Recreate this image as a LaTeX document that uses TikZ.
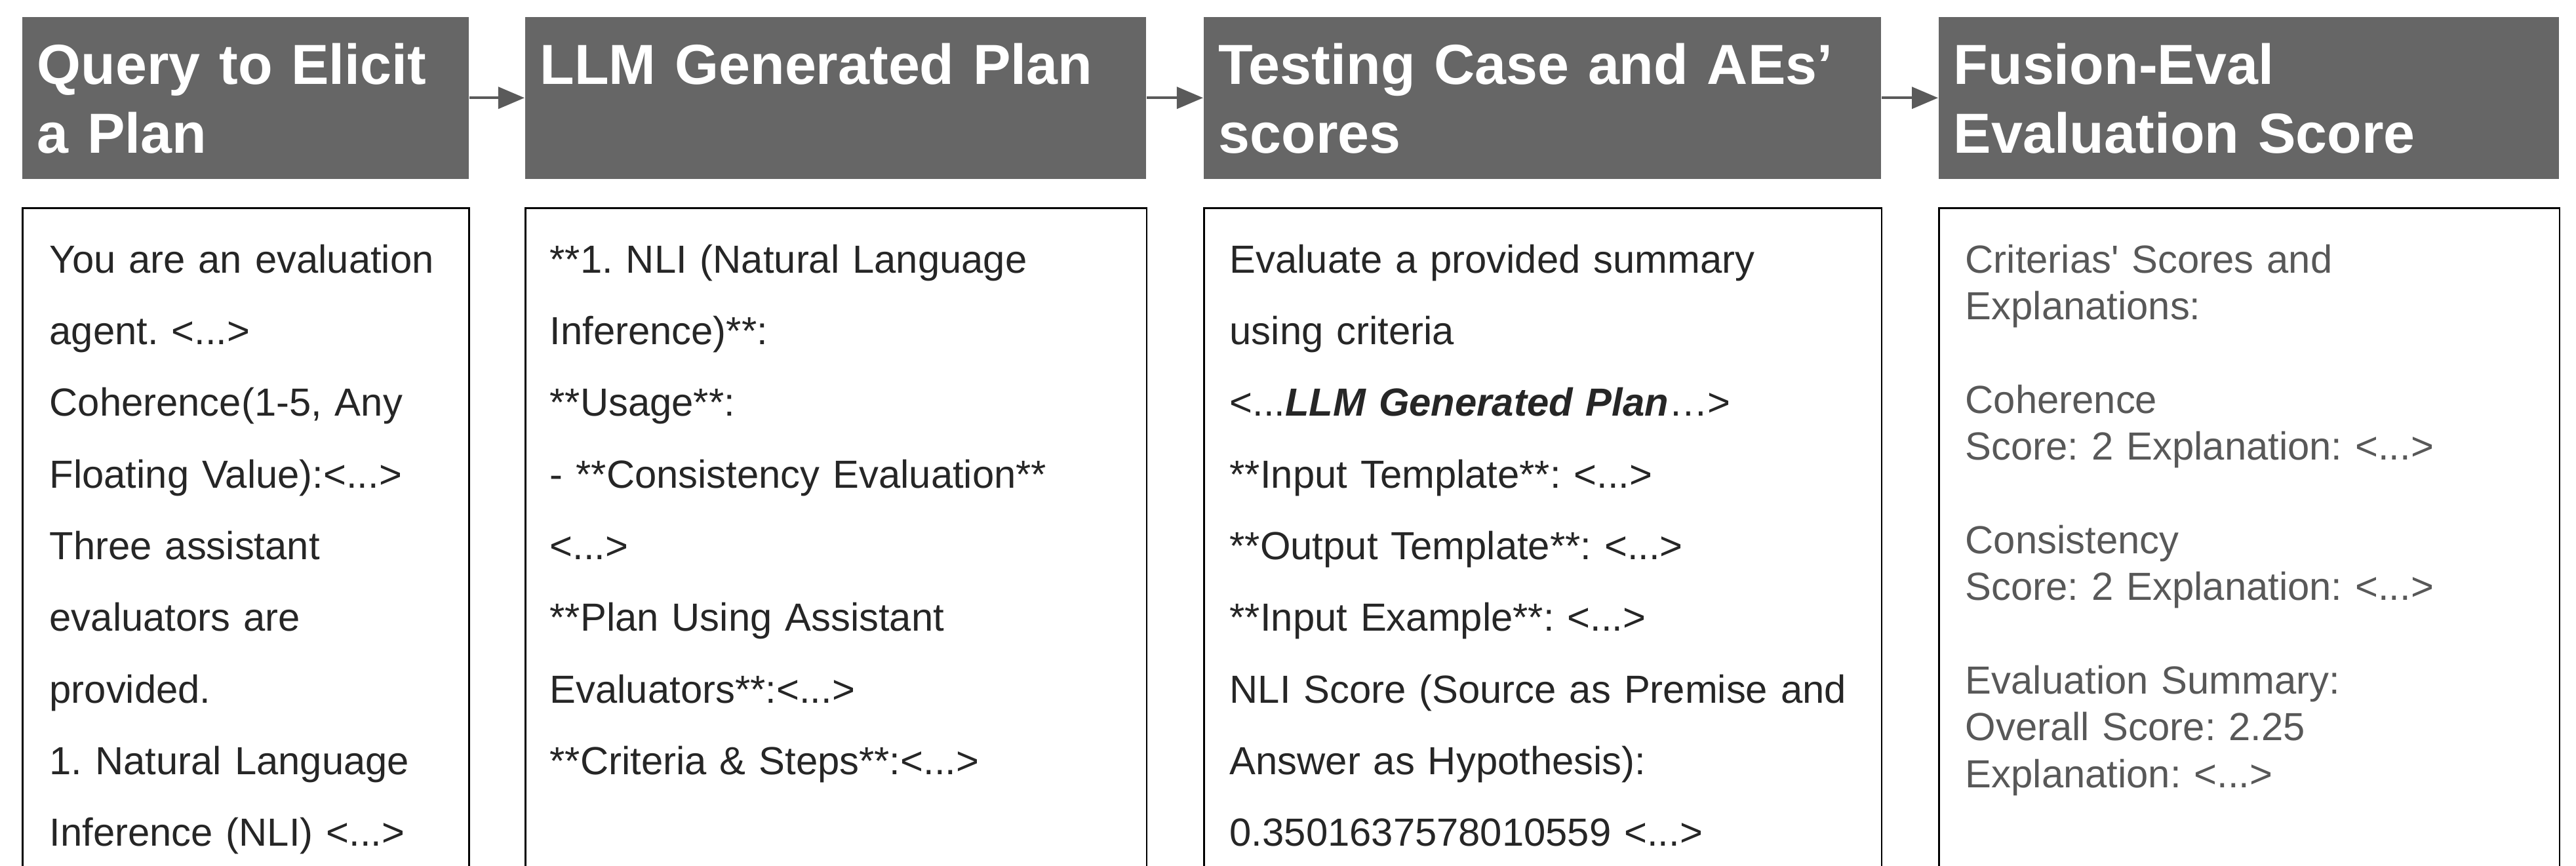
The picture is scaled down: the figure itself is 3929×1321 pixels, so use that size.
\documentclass[tikz,border=0pt]{standalone}
\usepackage{fontspec}
\setmainfont{Liberation Sans}
\usetikzlibrary{arrows.meta}
\definecolor{headgray}{HTML}{666666}
\definecolor{arrowgray}{HTML}{5A5A5A}
\definecolor{txtdark}{HTML}{262626}
\definecolor{txtgray}{HTML}{585858}
\frenchspacing

\begin{document}
\begin{tikzpicture}[x=0.01cm, y=-0.01cm,
  head/.style={fill=headgray, anchor=north west, minimum height=2.47cm, inner sep=0},
  headtxt/.style={anchor=base west, text=white, text width=10cm, inner sep=0,
    font=\fontsize{24.5}{29.9}\selectfont\bfseries},
  panel/.style={draw=black, line width=0.8pt, anchor=north west, minimum height=10.4cm, inner sep=0},
  bodytxt/.style={anchor=base west, text=txtdark, text width=11cm, inner sep=0,
    font=\fontsize{17}{31.1}\selectfont},
  flow/.style={arrowgray, line width=1.1pt, -{Triangle[length=0.4cm, width=0.33cm]}}]
\useasboundingbox (0,0) rectangle (3929,1321);
\clip (0,0) rectangle (3929,1321);

% Headers
\node[head, minimum width=6.81cm] (h1) at (33,25) {};
\node[head, minimum width=9.47cm] (h2) at (800,25) {};
\node[head, minimum width=10.33cm] (h3) at (1835,25) {};
\node[head, minimum width=9.46cm] (h4) at (2956,25) {};
\node[headtxt] (ht1) at (56,128) {Query to Elicit\\a Plan};
\node[headtxt] (ht2) at (823,128) {LLM Generated Plan};
\node[headtxt] (ht3) at (1858,128) {Testing Case and AEs’\\scores};
\node[headtxt] (ht4) at (2979,128) {Fusion-Eval\\Evaluation Score};

% Flechas
\draw[flow] (h1) -- (h2);
\draw[flow] (h2) -- (h3);
\draw[flow] (h3) -- (h4);

% Cajas
\node[panel, minimum width=6.81cm] (b1) at (33,316) {};
\node[panel, minimum width=9.47cm] (b2) at (800,316) {};
\node[panel, minimum width=10.33cm] (b3) at (1835,316) {};
\node[panel, minimum width=9.46cm] (b4) at (2956,316) {};

% Textos
\node[bodytxt] (q1) at (75,416) {You are an evaluation\\
agent. <...>\\
Coherence(1-5, Any\\
Floating Value):<...>\\
Three assistant\\
evaluators are\\
provided.\\
1. Natural Language\\
Inference (NLI) <...>};
\node[bodytxt] (p1) at (838,416) {**1. NLI (Natural Language\\
Inference)**:\\
{}**Usage**:\\
- **Consistency Evaluation**\\
<...>\\
{}**Plan Using Assistant\\
Evaluators**:<...>\\
{}**Criteria \& Steps**:<...>};
\node[bodytxt] (s1) at (1875,416) {Evaluate a provided summary\\
using criteria\\
<...\textbf{\textit{LLM Generated Plan}}…>\\
{}**Input Template**: <...>\\
{}**Output Template**: <...>\\
{}**Input Example**: <...>\\
NLI Score (Source as Premise and\\
Answer as Hypothesis):\\
0.3501637578010559 <...>};
\node[bodytxt, text=txtgray, font=\fontsize{17}{20.3}\selectfont] (e1) at (2997,416) {Criterias\textquotesingle{} Scores and\\
Explanations:\\[\baselineskip]
Coherence\\
Score: 2 Explanation: <...>\\[\baselineskip]
Consistency\\
Score: 2 Explanation: <...>\\[\baselineskip]
Evaluation Summary:\\
Overall Score: 2.25\\
Explanation: <...>};
\end{tikzpicture}
\end{document}
